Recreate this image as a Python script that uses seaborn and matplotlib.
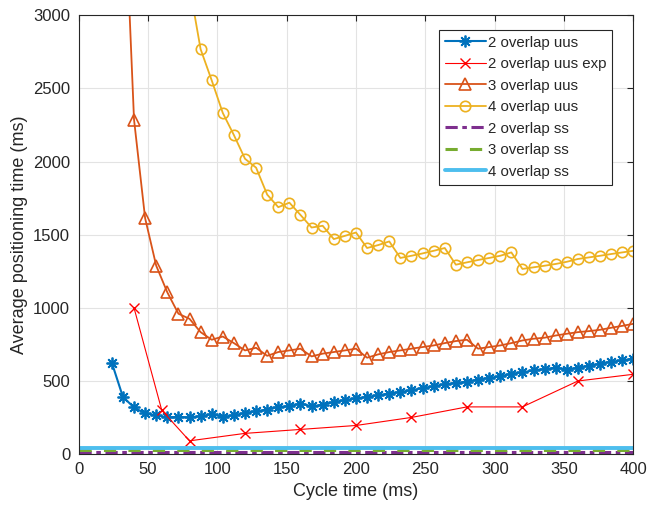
import matplotlib
matplotlib.use("Agg")
import matplotlib.pyplot as plt
import seaborn as sns

# cycle times (ms) for each series
cycle_2uus = [24, 32, 40, 48, 56, 64, 72, 80, 88, 96, 104, 112, 120, 128, 136, 144,
              152, 160, 168, 176, 184, 192, 200, 208, 216, 224, 232, 240, 248, 256,
              264, 272, 280, 288, 296, 304, 312, 320, 328, 336, 344, 352, 360, 368,
              376, 384, 392, 400]
time_2uus = [625, 391, 319, 278, 266, 251, 255, 251, 260, 273, 255, 266, 282, 294,
             305, 323, 328, 346, 328, 337, 357, 369, 382, 391, 403, 414, 425, 437,
             452, 464, 478, 487, 496, 509, 521, 532, 550, 559, 573, 582, 591, 578,
             591, 605, 618, 632, 641, 653]

cycle_2exp = [40, 60, 80, 120, 160, 200, 240, 280, 320, 360, 400]
time_2exp = [1000, 300, 91, 142, 169, 196, 251, 323, 323, 500, 546]

cycle_3uus = [32, 40, 48, 56, 64, 72, 80, 88, 96, 104, 112, 120, 128, 136, 144,
              152, 160, 168, 176, 184, 192, 200, 208, 216, 224, 232, 240, 248, 256,
              264, 272, 280, 288, 296, 304, 312, 320, 328, 336, 344, 352, 360, 368,
              376, 384, 392, 400]
time_3uus = [4100, 2287, 1613, 1288, 1106, 960, 925, 834, 782, 804, 759, 709, 727,
             672, 698, 709, 721, 668, 687, 698, 709, 721, 659, 682, 698, 709, 721,
             732, 743, 759, 773, 782, 721, 732, 743, 759, 777, 789, 796, 811, 823,
             834, 841, 850, 864, 877, 891]

cycle_4uus = [80, 88, 96, 104, 112, 120, 128, 136, 144, 152, 160, 168, 176, 184,
              192, 200, 208, 216, 224, 232, 240, 248, 256, 264, 272, 280, 288, 296,
              304, 312, 320, 328, 336, 344, 352, 360, 368, 376, 384, 392, 400]
time_4uus = [3200, 2768, 2555, 2332, 2181, 2019, 1958, 1774, 1688, 1719, 1635, 1549,
             1561, 1470, 1492, 1515, 1409, 1429, 1454, 1341, 1356, 1372, 1390, 1409,
             1295, 1311, 1327, 1341, 1356, 1379, 1266, 1277, 1288, 1300, 1315, 1334,
             1345, 1356, 1368, 1379, 1390]

cycle_ss = [0, 400]
time_2ss = [15, 15]
time_3ss = [25, 25]
time_4ss = [40, 40]

sns.set_style("whitegrid")
plt.rcParams['font.family'] = ['Liberation Sans', 'DejaVu Sans']

fig = plt.figure(figsize=(6.49, 5.08), dpi=100)
ax = fig.add_axes([0.121, 0.106, 0.855, 0.864])

asterisk = (8, 2, 0)
sns.lineplot(x=cycle_2uus, y=time_2uus, ax=ax, color='#0072BD', lw=1.5,
             marker=asterisk, markersize=8.5, markeredgewidth=1.3,
             markeredgecolor='#0072BD', label='2 overlap uus')
sns.lineplot(x=cycle_2exp, y=time_2exp, ax=ax, color='#FF0000', lw=0.8,
             marker='x', markersize=7, markeredgewidth=1.0,
             markeredgecolor='#FF0000', label='2 overlap uus exp')
sns.lineplot(x=cycle_3uus, y=time_3uus, ax=ax, color='#D95319', lw=1.3,
             marker='^', markersize=8.5, markerfacecolor='none',
             markeredgewidth=1.2, markeredgecolor='#D95319', label='3 overlap uus')
sns.lineplot(x=cycle_4uus, y=time_4uus, ax=ax, color='#EDB120', lw=1.3,
             marker='o', markersize=7.5, markerfacecolor='none',
             markeredgewidth=1.2, markeredgecolor='#EDB120', label='4 overlap uus')
sns.lineplot(x=cycle_ss, y=time_2ss, ax=ax, color='#7E2F8E', lw=2.2,
             linestyle=(0, (4, 1.5, 1.5, 1.5)), label='2 overlap ss')
sns.lineplot(x=cycle_ss, y=time_3ss, ax=ax, color='#77AC30', lw=2.2,
             linestyle=(0, (4, 4)), label='3 overlap ss')
sns.lineplot(x=cycle_ss, y=time_4ss, ax=ax, color='#4DBEEE', lw=2.8,
             label='4 overlap ss')

ax.set_xlim(0, 400)
ax.set_ylim(0, 3000)
ax.set_xticks(range(0, 401, 50))
ax.set_yticks(range(0, 3001, 500))
ax.set_xlabel('Cycle time (ms)', fontsize=13, color='#262626')
ax.set_ylabel('Average positioning time (ms)', fontsize=13, color='#262626')
ax.tick_params(direction='in', length=4, width=0.8, labelsize=12,
               colors='#262626', top=True, right=True, pad=6)
ax.grid(True, color='#e3e3e3', lw=0.8)
for s in ax.spines.values():
    s.set_visible(True)
    s.set_color('#262626')
    s.set_linewidth(0.8)

leg = ax.legend(loc='upper right', bbox_to_anchor=(0.962, 0.967), fontsize=10.8,
                frameon=True, fancybox=False, edgecolor='#262626',
                handlelength=2.7, handletextpad=0.15, labelspacing=0.5,
                borderpad=0.4, borderaxespad=0)
leg.get_frame().set_linewidth(0.8)
leg.get_frame().set_alpha(1)

fig.savefig('out.png', dpi=100)
